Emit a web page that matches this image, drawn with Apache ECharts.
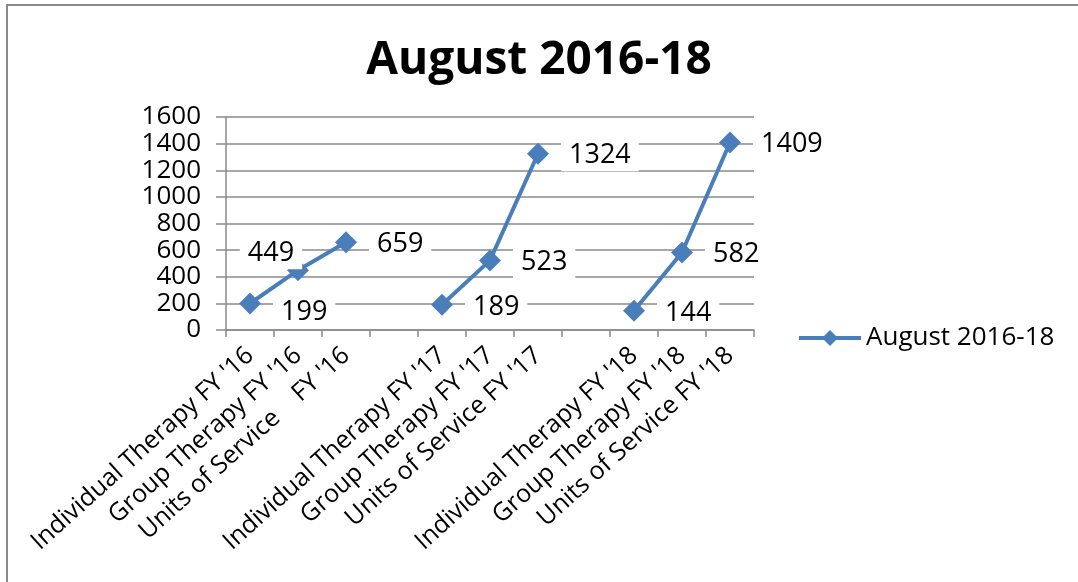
<!DOCTYPE html>
<html>
<head>
<meta charset="utf-8">
<script src="https://cdn.jsdelivr.net/npm/echarts@6/dist/echarts.min.js"></script>
<style>
  html, body { margin: 0; padding: 0; background: #fff; }
  #chart { width: 1078px; height: 582px; }
  #frame { position: absolute; left: 6px; top: 4px; right: 0; bottom: -10px;
           border-top: 2px solid #8a8a8a; border-left: 2px solid #8a8a8a; pointer-events: none; }
</style>
</head>
<body>
<div id="chart"></div>
<div id="frame"></div>
<script>
// categories (blank entries are the gaps between fiscal years)
var categories = [
  "Individual Therapy FY '16", "Group Therapy FY '16", "Units of Service    FY '16", '',
  "Individual Therapy FY '17", "Group Therapy FY '17", "Units of Service FY '17", '',
  "Individual Therapy FY '18", "Group Therapy FY '18", "Units of Service FY '18"
];
var values = [199, 449, 659, null, 189, 523, 1324, null, 144, 582, 1409];
var seriesName = 'August 2016-18';

var font = 'Open Sans';
var blue = '#4a7ebb';

// a few labels sit away from the default right-hand spot
var labelTweaks = {
  0: { offset: [0, 9] },
  1: { position: 'top', offset: [-27, 22] }
};

var chart = echarts.init(document.getElementById('chart'));

var seriesData = values.map(function (v, i) {
  var item = { value: v };
  if (labelTweaks[i]) item.label = labelTweaks[i];
  return item;
});

var option = {
  animation: false,
  title: {
    text: 'August 2016-18',
    left: 'center',
    top: 33,
    textStyle: { fontFamily: font, fontWeight: 'bold', fontSize: 46, color: '#000' }
  },
  legend: {
    data: [seriesName],
    left: 792,
    top: 320,
    itemWidth: 62,
    itemHeight: 20,
    itemGap: 4,
    lineStyle: { width: 4 },
    textStyle: { fontFamily: font, fontSize: 26, color: '#000' }
  },
  grid: { left: 226, right: 324, top: 117, bottom: 252 },
  xAxis: {
    type: 'category',
    data: categories,
    boundaryGap: true,
    axisLine: { lineStyle: { color: '#8a8a8a', width: 1.5 } },
    axisTick: { show: true, length: 7, interval: 0, lineStyle: { color: '#8a8a8a', width: 1.5 } },
    axisLabel: {
      interval: 0,
      rotate: 42,
      margin: 22,
      fontFamily: font,
      fontSize: 25,
      color: '#000'
    }
  },
  yAxis: {
    type: 'value',
    min: 0,
    max: 1600,
    interval: 200,
    axisLine: { show: true, lineStyle: { color: '#8a8a8a', width: 1.5 } },
    axisTick: { show: true, length: 10, lineStyle: { color: '#8a8a8a', width: 1.5 } },
    splitLine: { lineStyle: { color: '#8a8a8a', width: 1.5 } },
    axisLabel: {
      fontFamily: font, fontSize: 26, color: '#000', margin: 25,
      formatter: function (v) { return String(v); }
    }
  },
  series: [{
    name: seriesName,
    type: 'line',
    data: seriesData,
    connectNulls: false,
    symbol: 'path://M0,-1L1,0L0,1L-1,0Z',
    symbolSize: 22,
    itemStyle: { color: blue },
    lineStyle: { color: blue, width: 4 },
    label: {
      show: true,
      position: 'right',
      distance: 12,
      offset: [0, 2],
      fontFamily: font,
      fontSize: 27,
      color: '#000',
      backgroundColor: '#fff',
      padding: [2, 8]
    }
  }]
};

chart.setOption(option);
window.addEventListener('resize', function () {
  chart.resize();
});
</script>
</body>
</html>
